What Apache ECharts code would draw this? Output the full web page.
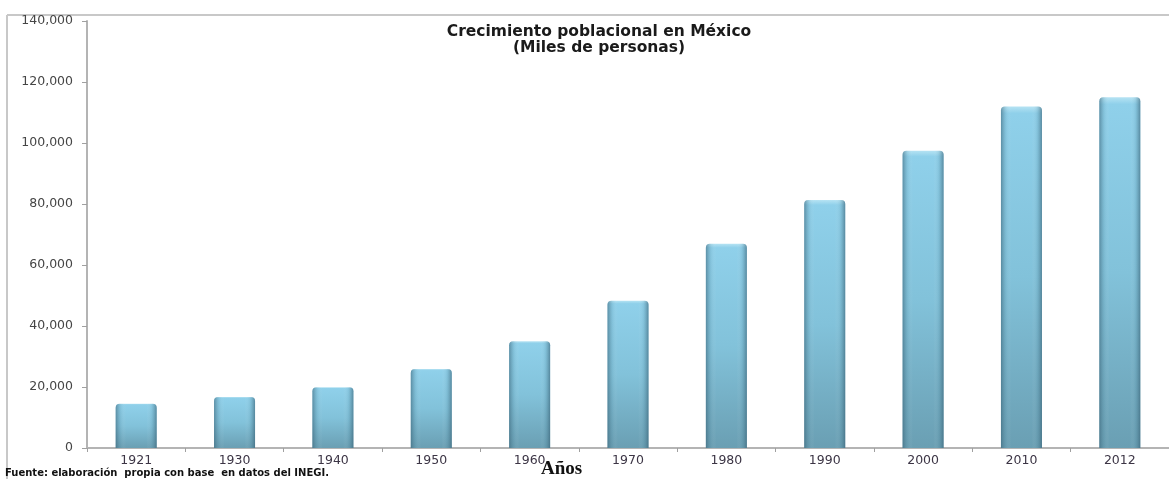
<!DOCTYPE html>
<html>
<head>
<meta charset="utf-8">
<script src="https://cdn.jsdelivr.net/npm/echarts@6/dist/echarts.min.js"></script>
<style>
html,body{margin:0;padding:0;background:#fff;}
#chart{width:1169px;height:479px;}
</style>
</head>
<body>
<div id="chart"></div>
<script>
const categories = ['1921','1930','1940','1950','1960','1970','1980','1990','2000','2010','2012'];
const poblacion = [14500, 16700, 19900, 25900, 35000, 48300, 67000, 81300, 97500, 112000, 115000];
const titleText = 'Crecimiento poblacional en México\n(Miles de personas)';
const xAxisName = 'Años';
const sourceText = 'Fuente: elaboración  propia con base  en datos del INEGI.';

const chart = echarts.init(document.getElementById('chart'));
chart.setOption({
  animation: false,
  backgroundColor: '#ffffff',
  title: {
    text: titleText,
    left: 594,
    textAlign: 'center',
    top: 19,
    textStyle: {fontFamily: 'DejaVu Sans', fontSize: 15.5, fontWeight: 'bold', color: '#1a1a1a', lineHeight: 16}
  },
  grid: {left: 87, right: -10, top: 21, bottom: 31, containLabel: false},
  xAxis: {
    type: 'category',
    data: categories,
    axisLine: {lineStyle: {color: '#b4b4b4', width: 2}},
    axisTick: {show: true, length: 4, lineStyle: {color: '#a0a0a0'}},
    axisLabel: {fontFamily: 'DejaVu Sans', fontSize: 12.5, color: '#3c3545', margin: 6}
  },
  yAxis: {
    type: 'value',
    min: 0, max: 140000, interval: 20000,
    axisLine: {show: true, lineStyle: {color: '#b4b4b4', width: 2}},
    axisTick: {show: true, length: 5, lineStyle: {color: '#a0a0a0'}},
    splitLine: {show: false},
    axisLabel: {fontFamily: 'DejaVu Sans', fontSize: 12.5, color: '#454545', margin: 14,
      formatter: v => v.toLocaleString('en-US')}
  },
  graphic: [
    {type: 'line', shape: {x1: 7, y1: 15, x2: 1169, y2: 15}, style: {stroke: '#c8c8c8', lineWidth: 2}},
    {type: 'line', shape: {x1: 7, y1: 15, x2: 7, y2: 479}, style: {stroke: '#c8c8c8', lineWidth: 2}},
    {type: 'text', left: 5, top: 468, style: {text: sourceText, font: 'bold 10px "DejaVu Sans"', fill: '#111'}},
    {type: 'text', left: 541, top: 460, style: {text: xAxisName, font: 'bold 19px "Liberation Serif"', fill: '#111'}}
  ],
  series: [
    {
      type: 'bar',
      data: poblacion,
      barWidth: 41,
      itemStyle: {
        borderRadius: [4, 4, 0, 0],
        color: {type: 'linear', x: 0, y: 0, x2: 0, y2: 1, colorStops: [
          {offset: 0, color: '#b6e3f3'}, {offset: 0.02, color: '#8fd0ea'},
          {offset: 0.5, color: '#82c2da'}, {offset: 1, color: '#6a9fb3'}]}
      }
    },
    {
      type: 'bar',
      data: poblacion,
      barWidth: 41,
      barGap: '-100%',
      silent: true,
      itemStyle: {
        borderRadius: [4, 4, 0, 0],
        color: {type: 'linear', x: 0, y: 0, x2: 1, y2: 0, colorStops: [
          {offset: 0, color: 'rgba(50,90,110,0.55)'}, {offset: 0.12, color: 'rgba(80,130,150,0.15)'},
          {offset: 0.25, color: 'rgba(255,255,255,0)'}, {offset: 0.75, color: 'rgba(255,255,255,0)'},
          {offset: 0.88, color: 'rgba(80,130,150,0.15)'}, {offset: 1, color: 'rgba(50,90,110,0.6)'}]}
      }
    }
  ]
});
</script>
</body>
</html>
